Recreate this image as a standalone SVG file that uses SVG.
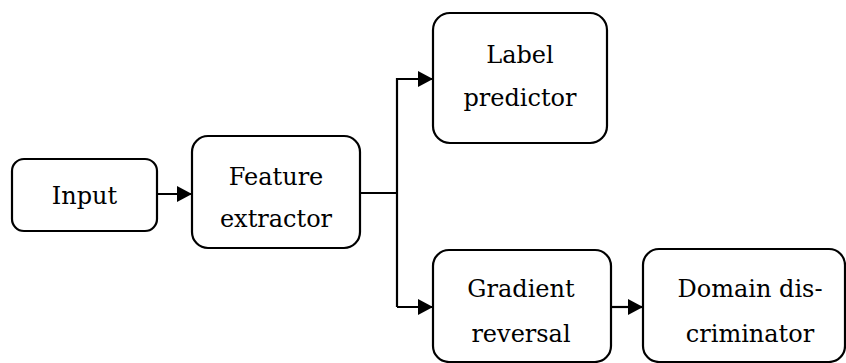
<svg xmlns="http://www.w3.org/2000/svg" width="846" height="363" viewBox="0 0 846 363">
  <style>
    .box { fill: #ffffff; stroke: #000000; stroke-width: 2.2; }
    .lbl { font-family: "DejaVu Serif", serif; font-size: 24px; fill: #000000; text-anchor: middle; }
    .conn { fill: none; stroke: #000000; stroke-width: 2.2; }
  </style>
  <defs>
    <marker id="arrow" markerUnits="userSpaceOnUse" markerWidth="16" markerHeight="16" refX="15" refY="8" orient="auto">
      <path d="M0,0 L15,8 L0,16 Z" fill="#000000"/>
    </marker>
  </defs>
  <rect width="846" height="363" fill="#ffffff"/>
  <g id="connectors">
    <line class="conn" x1="157" y1="194" x2="192" y2="194" marker-end="url(#arrow)"/>
    <polyline class="conn" points="360,193 397,193"/>
    <polyline class="conn" points="397,307 397,79 433,79" marker-end="url(#arrow)"/>
    <line class="conn" x1="397" y1="307" x2="433" y2="307" marker-end="url(#arrow)"/>
    <line class="conn" x1="611" y1="307" x2="643" y2="307" marker-end="url(#arrow)"/>
  </g>
  <g id="input">
    <rect class="box" x="12" y="159" width="145" height="72" rx="12"/>
    <text class="lbl" x="84.5" y="204">Input</text>
  </g>
  <g id="feature-extractor">
    <rect class="box" x="192" y="136" width="168" height="112" rx="16"/>
    <text class="lbl" x="276" y="185">Feature</text>
    <text class="lbl" x="276" y="227">extractor</text>
  </g>
  <g id="label-predictor">
    <rect class="box" x="433" y="13" width="174" height="130" rx="17"/>
    <text class="lbl" x="520" y="63">Label</text>
    <text class="lbl" x="520" y="106">predictor</text>
  </g>
  <g id="gradient-reversal">
    <rect class="box" x="433" y="250" width="178" height="112" rx="16"/>
    <text class="lbl" x="521" y="297">Gradient</text>
    <text class="lbl" x="521" y="342">reversal</text>
  </g>
  <g id="domain-discriminator">
    <rect class="box" x="643" y="249" width="202" height="113" rx="16"/>
    <text class="lbl" x="750" y="297">Domain dis-</text>
    <text class="lbl" x="750" y="342">criminator</text>
  </g>
</svg>
